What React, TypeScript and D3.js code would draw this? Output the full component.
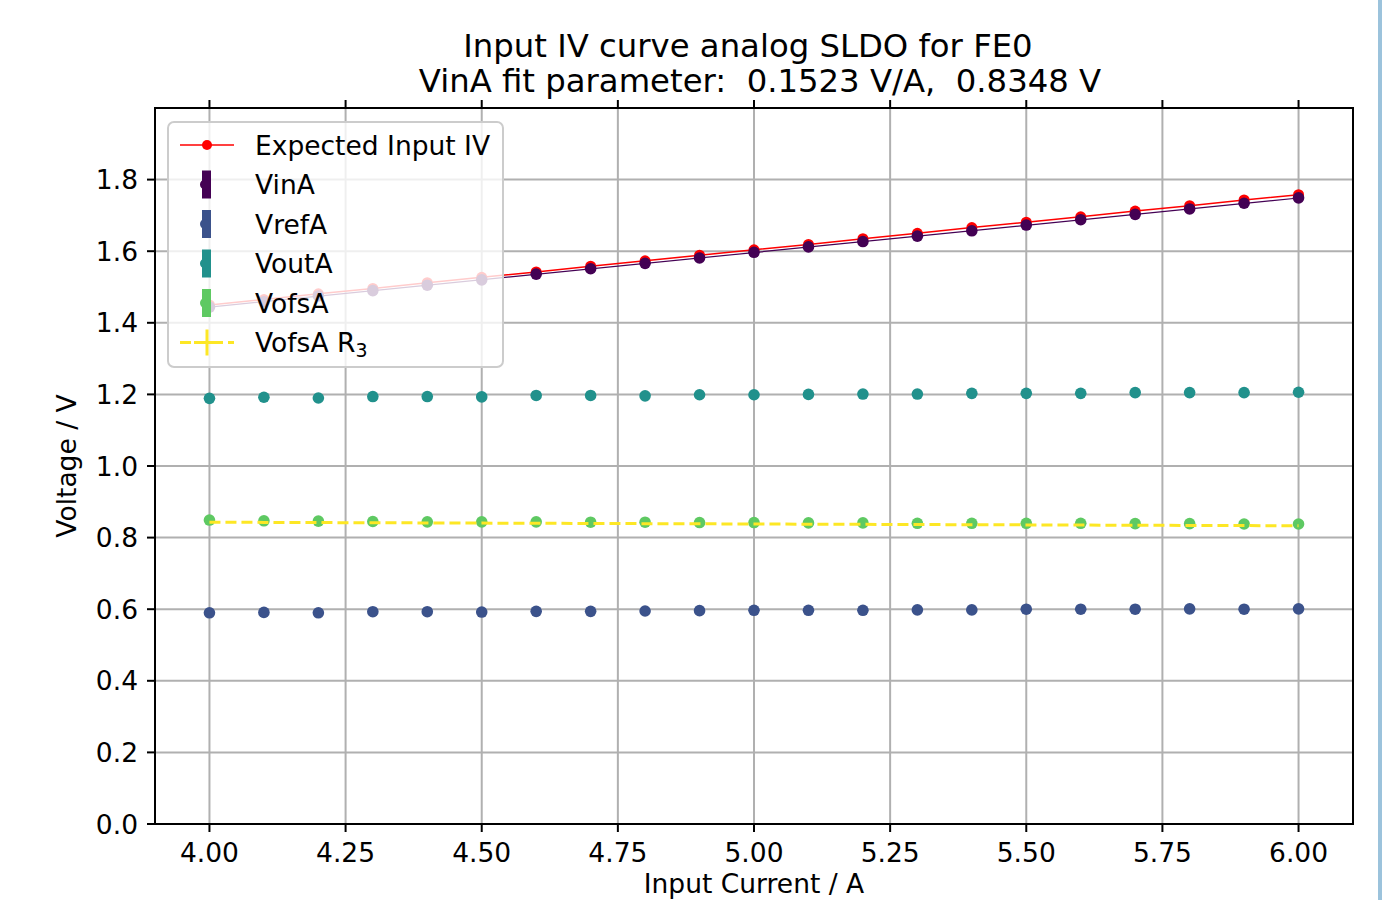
import React from 'react'
import * as d3 from 'd3'

// input current (A)
const current = [4.0, 4.1, 4.2, 4.3, 4.4, 4.5, 4.6, 4.7, 4.8, 4.9, 5.0, 5.1, 5.2, 5.3, 5.4, 5.5, 5.6, 5.7, 5.8, 5.9, 6.0]

const expectedIV = [1.450, 1.465, 1.481, 1.496, 1.512, 1.527, 1.542, 1.558, 1.573, 1.589, 1.604, 1.619, 1.635, 1.650, 1.666, 1.681, 1.696, 1.712, 1.727, 1.743, 1.758]
const vinA = [1.444, 1.459, 1.475, 1.490, 1.505, 1.520, 1.536, 1.551, 1.566, 1.581, 1.597, 1.612, 1.627, 1.642, 1.657, 1.673, 1.688, 1.703, 1.718, 1.734, 1.749]
const vrefA = [0.590, 0.591, 0.590, 0.593, 0.593, 0.592, 0.594, 0.594, 0.595, 0.596, 0.597, 0.597, 0.597, 0.598, 0.598, 0.600, 0.600, 0.600, 0.601, 0.600, 0.601]
const voutA = [1.189, 1.192, 1.190, 1.194, 1.194, 1.193, 1.197, 1.197, 1.196, 1.199, 1.199, 1.200, 1.201, 1.201, 1.203, 1.203, 1.203, 1.205, 1.205, 1.205, 1.206]
const vofsA = [0.849, 0.847, 0.846, 0.845, 0.844, 0.844, 0.844, 0.843, 0.843, 0.842, 0.842, 0.841, 0.841, 0.840, 0.840, 0.840, 0.840, 0.839, 0.839, 0.838, 0.838]
const vofsAR3 = [0.8430, 0.8425, 0.8420, 0.8415, 0.8410, 0.8405, 0.8400, 0.8395, 0.8390, 0.8385, 0.8380, 0.8375, 0.8370, 0.8365, 0.8360, 0.8355, 0.8350, 0.8345, 0.8340, 0.8335, 0.8330]

// VinA fit: slope (V/A), offset (V)
const vinFit = [0.1523, 0.8348]
const yErr = 0.005

const xTicks = [4.0, 4.25, 4.5, 4.75, 5.0, 5.25, 5.5, 5.75, 6.0]
const yTicks = [0.0, 0.2, 0.4, 0.6, 0.8, 1.0, 1.2, 1.4, 1.6, 1.8]

const errSeries = [
  { name: 'VinA', values: vinA, color: '#440154' },
  { name: 'VrefA', values: vrefA, color: '#3b528b' },
  { name: 'VoutA', values: voutA, color: '#21918c' },
  { name: 'VofsA', values: vofsA, color: '#5ec962' },
]

const W = 1382
const H = 900
const m = { left: 155, right: 1353, top: 108, bottom: 824 }
const font = 'DejaVu Sans, sans-serif'
const fs = 26.5

export default function App() {
  const x = d3.scaleLinear().domain([3.9, 6.1]).range([m.left, m.right])
  const y = d3.scaleLinear().domain([0, 2.0]).range([m.bottom, m.top])
  const line = (vals: number[]) =>
    d3.line<number>().x((_, i) => x(current[i])).y(v => y(v))(vals) || ''
  const fitLine = d3.line<number>().x(c => x(c)).y(c => y(vinFit[0] * c + vinFit[1]))([current[0], current[current.length - 1]]) || ''

  const legendRows = ['Expected Input IV', 'VinA', 'VrefA', 'VoutA', 'VofsA', 'VofsA R3']
  const lx = 168, ly = 122, rowH = 39.5

  return (
    <svg width={W} height={H} style={{ position: 'absolute', left: 0, top: 0, background: '#fff' }} fontFamily={font}>
      <rect x={0} y={0} width={W} height={H} fill="#fff" />
      <rect x={1378} y={0} width={4} height={H} fill="#9cc3dc" />

      {/* title */}
      <text x={748} y={57} fontSize={32.3} textAnchor="middle">Input IV curve analog SLDO for FE0</text>
      <text x={760} y={92} fontSize={32.3} textAnchor="middle" style={{ whiteSpace: 'pre' }}>VinA fit parameter:  0.1523 V/A,  0.8348 V</text>

      {/* grid */}
      {xTicks.map(t => (
        <line key={'gx' + t} x1={x(t)} x2={x(t)} y1={m.top} y2={m.bottom} stroke="#b0b0b0" strokeWidth={2} />
      ))}
      {yTicks.map(t => (
        <line key={'gy' + t} x1={m.left} x2={m.right} y1={y(t)} y2={y(t)} stroke="#b0b0b0" strokeWidth={2} />
      ))}

      {/* expected IV */}
      <path d={line(expectedIV)} fill="none" stroke="red" strokeWidth={1.5} />
      {expectedIV.map((v, i) => (
        <circle key={'e' + i} cx={x(current[i])} cy={y(v)} r={5.5} fill="red" />
      ))}

      {/* errorbar series */}
      {errSeries.map(s => (
        <g key={s.name}>
          {s.values.map((v, i) => (
            <g key={i}>
              <rect x={x(current[i]) - 3.5} y={y(v + yErr)} width={7} height={y(v - yErr) - y(v + yErr)} fill={s.color} />
              <circle cx={x(current[i])} cy={y(v)} r={5.8} fill={s.color} />
            </g>
          ))}
        </g>
      ))}
      <path d={fitLine} fill="none" stroke="#440154" strokeWidth={1.2} />

      {/* VofsA R3 */}
      <path d={line(vofsAR3)} fill="none" stroke="#fde725" strokeWidth={3} strokeDasharray="11,5" />

      {/* spines */}
      <rect x={m.left} y={m.top} width={m.right - m.left} height={m.bottom - m.top} fill="none" stroke="#000" strokeWidth={2} />

      {/* ticks */}
      {xTicks.map(t => (
        <g key={'tx' + t}>
          <line x1={x(t)} x2={x(t)} y1={m.bottom} y2={m.bottom + 8} stroke="#000" strokeWidth={2} />
          <line x1={x(t)} x2={x(t)} y1={m.top} y2={m.top - 8} stroke="#000" strokeWidth={2} />
          <text x={x(t)} y={m.bottom + 38} fontSize={fs} textAnchor="middle">{t.toFixed(2)}</text>
        </g>
      ))}
      {yTicks.map(t => (
        <g key={'ty' + t}>
          <line x1={m.left - 8} x2={m.left} y1={y(t)} y2={y(t)} stroke="#000" strokeWidth={2} />
          <text x={m.left - 17} y={y(t) + 9.5} fontSize={fs} textAnchor="end">{t.toFixed(1)}</text>
        </g>
      ))}

      {/* axis labels */}
      <text x={(m.left + m.right) / 2} y={893} fontSize={fs} textAnchor="middle">Input Current / A</text>
      <text transform={`translate(76, ${(m.top + m.bottom) / 2}) rotate(-90)`} fontSize={fs} textAnchor="middle">Voltage / V</text>

      {/* legend */}
      <rect x={lx} y={ly} width={335} height={245} rx={6} fill="#fff" fillOpacity={0.8} stroke="#cccccc" strokeWidth={2} />
      {legendRows.map((name, i) => {
        const cy = ly + 23 + i * rowH
        let handle: React.ReactNode = null
        if (i === 0) {
          handle = (
            <g>
              <line x1={180} x2={234} y1={cy} y2={cy} stroke="red" strokeWidth={1.5} />
              <circle cx={207} cy={cy} r={5} fill="red" />
            </g>
          )
        } else if (i <= 4) {
          const c = errSeries[i - 1].color
          handle = (
            <g>
              <rect x={202} y={cy - 14} width={9} height={28} fill={c} />
              <circle cx={205} cy={cy} r={5} fill={c} />
            </g>
          )
        } else {
          handle = (
            <g stroke="#fde725" strokeWidth={3}>
              <line x1={180} x2={234} y1={cy} y2={cy} strokeDasharray="11,5" />
              <line x1={194} x2={220} y1={cy} y2={cy} />
              <line x1={207} x2={207} y1={cy - 13} y2={cy + 13} />
            </g>
          )
        }
        return (
          <g key={name}>
            {handle}
            <text x={255} y={cy + 9.5} fontSize={fs}>
              {i === 5 ? (<>VofsA R<tspan fontSize={19} dy={5}>3</tspan></>) : name}
            </text>
          </g>
        )
      })}
    </svg>
  )
}
